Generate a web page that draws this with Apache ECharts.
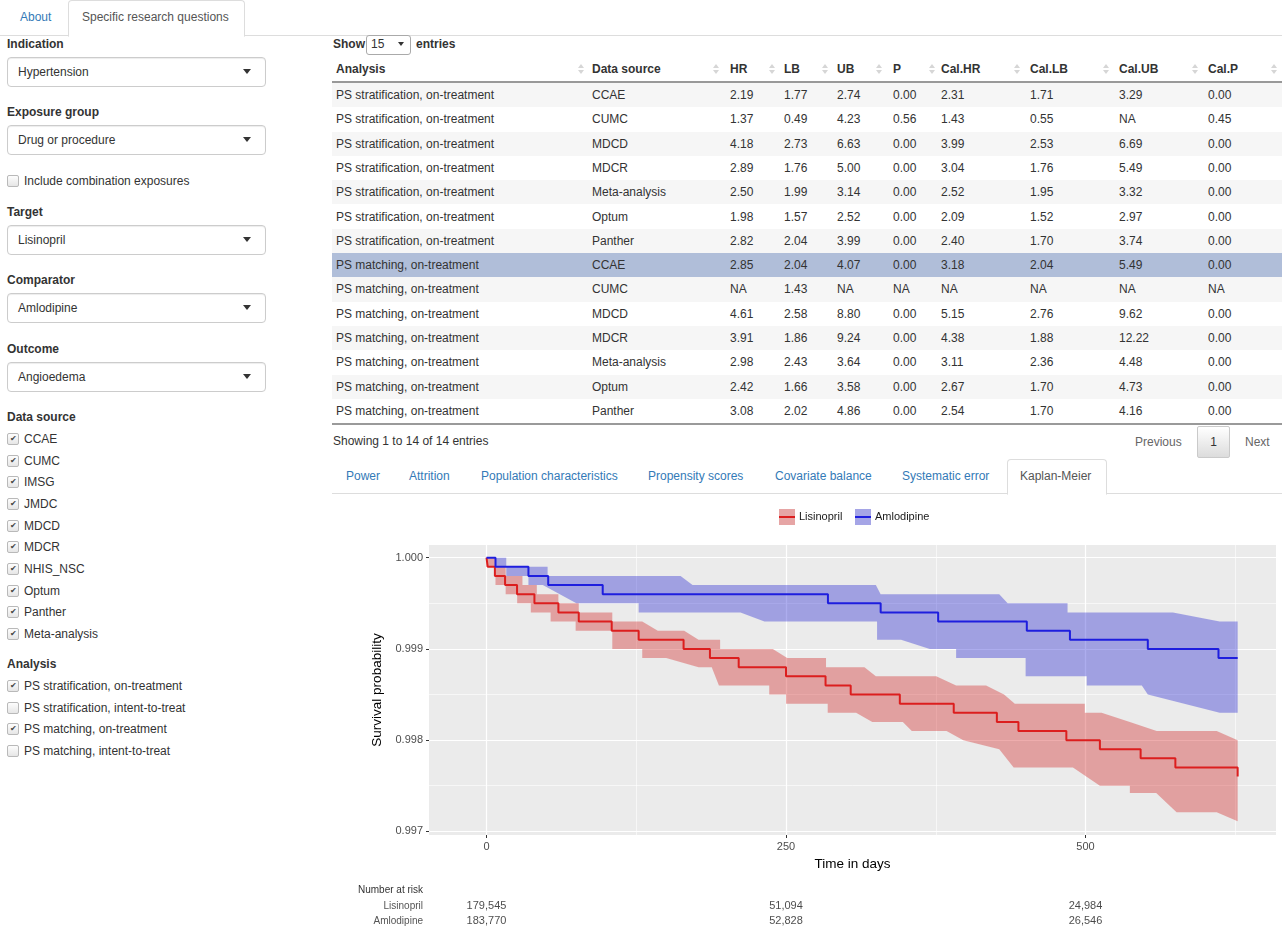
<!DOCTYPE html>
<html>
<head>
<meta charset="utf-8">
<script src="https://cdn.jsdelivr.net/npm/echarts/dist/echarts.min.js"></script>
<style>
body{margin:0;width:1282px;height:929px;overflow:hidden;background:#fff;position:relative;
     font-family:"Liberation Sans",Arial,Helvetica,sans-serif;font-size:12px;color:#333}
.t{position:absolute;white-space:nowrap;line-height:14px}
.b{font-weight:bold}
.lnk{color:#337ab7}
.sel{position:absolute;left:7px;width:257px;height:28px;border:1px solid #ccc;border-radius:4px;
     box-shadow:inset 0 1px 1px rgba(0,0,0,.075);background:#fff}
.sel span{position:absolute;left:10px;top:7px;line-height:14px}
.caret{position:absolute;width:0;height:0;border-left:4px solid transparent;border-right:4px solid transparent;border-top:5px solid #333}
.cb{position:absolute;width:10px;height:10px;border:1px solid #b9b9b9;border-radius:2px;
    background:linear-gradient(#fdfdfd,#e6e6e6);font-size:8px;line-height:10px;text-align:center;color:#444}
.sort{position:absolute;width:6px;height:10px}
.sort:before{content:"";position:absolute;left:0;top:0;border-left:3px solid transparent;border-right:3px solid transparent;border-bottom:4px solid #d6d6d6}
.sort:after{content:"";position:absolute;left:0;top:6px;border-left:3px solid transparent;border-right:3px solid transparent;border-top:4px solid #d6d6d6}
#km{position:absolute;left:330px;top:495px;width:952px;height:434px}
</style>
</head>
<body>

<!-- top tabs -->
<div style="position:absolute;left:0;top:35px;width:1282px;border-top:1px solid #ddd"></div>
<div class="t lnk" style="left:20px;top:10px">About</div>
<div style="position:absolute;left:68px;top:0;width:175px;height:35px;border:1px solid #ddd;border-bottom:1px solid #fff;border-radius:4px 4px 0 0;background:#fff"></div>
<div class="t" style="left:82px;top:10px;color:#555">Specific research questions</div>

<div id="side"></div>
<div id="main"></div>

<!-- sub tabs -->
<div style="position:absolute;left:332px;top:493px;width:950px;border-top:1px solid #ddd"></div>
<div style="position:absolute;left:1007px;top:459px;width:98px;height:34px;border:1px solid #ddd;border-bottom:1px solid #fff;border-radius:4px 4px 0 0;background:#fff"></div>
<div id="subtabs"></div>

<div id="km"></div>

<script>
// ---------- Kaplan-Meier data ----------
var lisinoprilTime = [0, 1, 7, 15.5, 25.5, 40, 60, 77, 104.5, 127, 164.5, 186.5, 210.5, 250, 283, 304, 345, 390, 426, 444, 484, 512, 546, 575, 627];
var lisinoprilSurv = [1.0000, 0.9999, 0.9998, 0.9997, 0.9996, 0.9995, 0.9994, 0.9993, 0.9992, 0.9991, 0.9990, 0.9989, 0.9988, 0.9987, 0.9986, 0.9985, 0.9984, 0.9983, 0.9982, 0.9981, 0.9980, 0.9979, 0.9978, 0.9977, 0.9976];

var amlodipineTime = [0, 7.5, 35, 51.5, 97, 285, 329, 377, 451, 487, 552, 611, 627];
var amlodipineSurv = [1.0000, 0.9999, 0.9998, 0.9997, 0.9996, 0.9995, 0.9994, 0.9993, 0.9992, 0.9991, 0.9990, 0.9989, 0.9989];

// confidence band outlines
var lisinoprilUpperT = [0, 7, 7, 16, 16, 30, 30, 42, 42, 60, 60, 77, 77, 105, 105, 130, 143, 165, 177, 195, 195, 239, 251, 283.4, 283.4, 315.5, 325, 375.4, 392, 417, 432, 441, 499.4, 499.4, 513.4, 537, 559.4, 609.5, 627];
var lisinoprilUpperV = [1.0000, 1.0000, 0.9999, 0.9999, 0.9998, 0.9998, 0.9997, 0.9997, 0.9996, 0.9996, 0.9995, 0.9995, 0.9994, 0.9994, 0.9993, 0.9993, 0.9992, 0.9992, 0.9991, 0.9991, 0.9990, 0.9990, 0.9989, 0.9989, 0.9988, 0.9988, 0.9987, 0.9987, 0.9986, 0.9986, 0.9985, 0.9984, 0.9984, 0.9983, 0.9983, 0.9982, 0.9981, 0.9981, 0.9980];
var lisinoprilLowerT = [0, 7.5, 7.5, 16, 16, 25.6, 25.6, 37, 37, 53.5, 53.5, 74.4, 74.4, 105, 105, 130, 130, 150, 177, 188, 194, 236, 236, 250, 250, 284.8, 284.8, 308.5, 322, 347.5, 355, 384, 398, 428, 440, 489.5, 512, 537, 537, 559, 576, 609.5, 627];
var lisinoprilLowerV = [0.9999, 0.9999, 0.9997, 0.9997, 0.9996, 0.9996, 0.9995, 0.9995, 0.9994, 0.9994, 0.9993, 0.9993, 0.9992, 0.9992, 0.9990, 0.9990, 0.9989, 0.9989, 0.9988, 0.9988, 0.9986, 0.9986, 0.9985, 0.9985, 0.9984, 0.9984, 0.9983, 0.9983, 0.9982, 0.9982, 0.9981, 0.9981, 0.9980, 0.9979, 0.9977, 0.9977, 0.9975, 0.9975, 0.99742, 0.99742, 0.99721, 0.99721, 0.99711];

var amlodipineUpperT = [0, 16.5, 16.5, 51, 51, 162, 172, 325, 329, 428, 435, 485, 485, 573, 612, 627];
var amlodipineUpperV = [1.0000, 1.0000, 0.9999, 0.9999, 0.9998, 0.9998, 0.9997, 0.9997, 0.9996, 0.9996, 0.9995, 0.9995, 0.9994, 0.9994, 0.9993, 0.9993];
var amlodipineLowerT = [0, 7.5, 7.5, 16.5, 16.5, 35, 35, 47, 75, 127, 127, 212, 232, 326, 326, 346, 370, 392, 392, 450, 450, 501, 501, 547, 552, 612, 627];
var amlodipineLowerV = [1.0000, 1.0000, 0.9999, 0.9999, 0.9998, 0.9998, 0.9997, 0.9997, 0.9995, 0.9995, 0.9994, 0.9994, 0.9993, 0.9993, 0.9991, 0.9991, 0.9990, 0.9990, 0.9989, 0.9989, 0.9987, 0.9987, 0.9986, 0.9986, 0.9985, 0.9983, 0.9983];

var xTicks = [0, 250, 500];
var xMinorTicks = [125, 375, 625];
var yTicks = [0.997, 0.998, 0.999, 1.000];
var yMinorTicks = [0.9975, 0.9985, 0.9995];

// number at risk
var riskGroups = ['Lisinopril', 'Amlodipine'];
var riskDays = [0, 250, 500];
var lisinoprilAtRisk = [179545, 51094, 24984];
var amlodipineAtRisk = [183770, 52828, 26546];

// ---------- results table ----------
var tableHead = ['Analysis', 'Data source', 'HR', 'LB', 'UB', 'P', 'Cal.HR', 'Cal.LB', 'Cal.UB', 'Cal.P'];
var analysisCol = ['PS stratification, on-treatment','PS stratification, on-treatment','PS stratification, on-treatment','PS stratification, on-treatment','PS stratification, on-treatment','PS stratification, on-treatment','PS stratification, on-treatment',
                   'PS matching, on-treatment','PS matching, on-treatment','PS matching, on-treatment','PS matching, on-treatment','PS matching, on-treatment','PS matching, on-treatment','PS matching, on-treatment'];
var sourceCol = ['CCAE','CUMC','MDCD','MDCR','Meta-analysis','Optum','Panther','CCAE','CUMC','MDCD','MDCR','Meta-analysis','Optum','Panther'];
var hrCol    = ['2.19','1.37','4.18','2.89','2.50','1.98','2.82','2.85','NA','4.61','3.91','2.98','2.42','3.08'];
var lbCol    = ['1.77','0.49','2.73','1.76','1.99','1.57','2.04','2.04','1.43','2.58','1.86','2.43','1.66','2.02'];
var ubCol    = ['2.74','4.23','6.63','5.00','3.14','2.52','3.99','4.07','NA','8.80','9.24','3.64','3.58','4.86'];
var pCol     = ['0.00','0.56','0.00','0.00','0.00','0.00','0.00','0.00','NA','0.00','0.00','0.00','0.00','0.00'];
var calHrCol = ['2.31','1.43','3.99','3.04','2.52','2.09','2.40','3.18','NA','5.15','4.38','3.11','2.67','2.54'];
var calLbCol = ['1.71','0.55','2.53','1.76','1.95','1.52','1.70','2.04','NA','2.76','1.88','2.36','1.70','1.70'];
var calUbCol = ['3.29','NA','6.69','5.49','3.32','2.97','3.74','5.49','NA','9.62','12.22','4.48','4.73','4.16'];
var calPCol  = ['0.00','0.45','0.00','0.00','0.00','0.00','0.00','0.00','NA','0.00','0.00','0.00','0.00','0.00'];
var selectedRow = 7;

var dataSources = ['CCAE','CUMC','IMSG','JMDC','MDCD','MDCR','NHIS_NSC','Optum','Panther','Meta-analysis'];
var analyses = ['PS stratification, on-treatment','PS stratification, intent-to-treat','PS matching, on-treatment','PS matching, intent-to-treat'];
var analysesChecked = [true, false, true, false];
var subTabs = ['Power','Attrition','Population characteristics','Propensity scores','Covariate balance','Systematic error'];

// ---------- page layout ----------
function txt(parent, s, x, yc, cls, extra) {
    var d = document.createElement('div');
    d.className = 't ' + (cls || '');
    d.style.left = x + 'px';
    d.style.top = (yc - 7) + 'px';
    if (extra) d.style.cssText += extra;
    d.textContent = s;
    parent.appendChild(d);
    return d;
}
function box(parent, cls, css, html) {
    var d = document.createElement('div');
    d.className = cls;
    d.style.cssText = css;
    if (html) d.innerHTML = html;
    parent.appendChild(d);
    return d;
}
function checkbox(parent, x, yc, on) {
    box(parent, 'cb', 'left:' + x + 'px;top:' + (yc - 6) + 'px', on ? '&#10004;' : '');
}

var side = document.getElementById('side');
var selects = [['Indication', 44, 57, 'Hypertension'], ['Exposure group', 112, 125, 'Drug or procedure'],
               ['Target', 212, 225, 'Lisinopril'], ['Comparator', 280, 293, 'Amlodipine'], ['Outcome', 349, 362, 'Angioedema']];
selects.forEach(function (s) {
    txt(side, s[0], 7, s[1], 'b');
    box(side, 'sel', 'top:' + s[2] + 'px', '<span>' + s[3] + '</span>');
    box(side, 'caret', 'left:243px;top:' + (s[2] + 12) + 'px');
});
checkbox(side, 7, 181, false);
txt(side, 'Include combination exposures', 24, 181, '');
txt(side, 'Data source', 7, 417, 'b');
dataSources.forEach(function (s, i) {
    var yc = 439 + i * 21.67;
    checkbox(side, 7, yc, true);
    txt(side, s, 24, yc, '');
});
txt(side, 'Analysis', 7, 664, 'b');
analyses.forEach(function (s, i) {
    var yc = 686 + i * 21.67;
    checkbox(side, 7, yc, analysesChecked[i]);
    txt(side, s, 24, yc, '');
});

var main = document.getElementById('main');
txt(main, 'Show', 333, 44, 'b');
box(main, '', 'position:absolute;left:366px;top:35px;width:43px;height:18px;border:1px solid #aaa;border-radius:3px;background:#fff');
txt(main, '15', 371, 44, '');
box(main, 'caret', 'left:398px;top:42px;border-left-width:3px;border-right-width:3px;border-top-width:4px');
txt(main, 'entries', 416, 44, 'b');

var colX = [336, 592, 730, 784, 837, 893, 941, 1030, 1119, 1208];
var sortX = [578, 713, 769, 822, 876, 929, 1014, 1103, 1192, 1271];
tableHead.forEach(function (h, i) {
    txt(main, h, colX[i], 69, 'b');
    box(main, 'sort', 'left:' + sortX[i] + 'px;top:64px');
});
box(main, '', 'position:absolute;left:332px;top:81px;width:950px;border-top:2px solid #999');
var cols = [analysisCol, sourceCol, hrCol, lbCol, ubCol, pCol, calHrCol, calLbCol, calUbCol, calPCol];
for (var r = 0; r < analysisCol.length; r++) {
    var rowTop = 83 + r * 24.3;
    var bg = r === selectedRow ? '#b0bed9' : (r % 2 === 0 ? '#f6f6f6' : '#fff');
    box(main, '', 'position:absolute;left:332px;top:' + rowTop + 'px;width:950px;height:24.3px;background:' + bg);
    for (var c = 0; c < cols.length; c++) {
        txt(main, cols[c][r], colX[c], rowTop + 12, '');
    }
}
box(main, '', 'position:absolute;left:332px;top:423px;width:950px;border-top:2px solid #9a9a9a');
txt(main, 'Showing 1 to 14 of 14 entries', 333, 441, '');
txt(main, 'Previous', 1135, 442, '', 'color:#666');
box(main, '', 'position:absolute;left:1197px;top:426px;width:31px;height:30px;border:1px solid #cacaca;border-radius:2px;background:linear-gradient(#fff,#dcdcdc);text-align:center;line-height:30px', '1');
txt(main, 'Next', 1245, 442, '', 'color:#666');

var st = document.getElementById('subtabs');
var subX = [346, 409, 481, 648, 775, 902];
subTabs.forEach(function (s, i) { txt(st, s, subX[i], 476, 'lnk'); });
txt(st, 'Kaplan-Meier', 1020, 476, '', 'color:#555');

// ---------- chart ----------
var X_MIN = -48, X_MAX = 659;
var Y_MIN = 0.99696, Y_MAX = 1.000139;
var RED = '#dc1e1e', BLUE = '#1e1ede';
var RED_FILL = 'rgba(210,40,40,0.38)', BLUE_FILL = 'rgba(40,40,210,0.38)';
var FONT = '"Liberation Sans", Arial, sans-serif';

function pairs(xs, ys) {
    return xs.map(function (x, i) { return [x, ys[i]]; });
}
function bandSeries(name, upT, upV, loT, loV, fill) {
    return {
        type: 'custom', name: name, xAxisIndex: 0, yAxisIndex: 0, silent: true, z: 2,
        data: [[upT[0], upV[0]]],
        renderItem: function (params, api) {
            var pts = [];
            for (var i = 0; i < upT.length; i++) pts.push(api.coord([upT[i], upV[i]]));
            for (var j = loT.length - 1; j >= 0; j--) pts.push(api.coord([loT[j], loV[j]]));
            return {type: 'polygon', shape: {points: pts}, style: {fill: fill}};
        }
    };
}
function riskData(group, counts) {
    return riskDays.map(function (d, i) { return [d, group, counts[i]]; });
}

var chart = echarts.init(document.getElementById('km'));
var option = {
    animation: false,
    textStyle: {fontFamily: FONT},
    grid: [
        {left: 99, top: 50, width: 847, height: 290, show: true, backgroundColor: '#ebebeb', borderWidth: 0, outerBoundsMode: 'none'},
        {left: 99, top: 403.5, width: 847, height: 30, show: false, outerBoundsMode: 'none'}
    ],
    xAxis: [
        {
            type: 'value', gridIndex: 0, min: X_MIN, max: X_MAX,
            axisLine: {show: false, onZero: false},
            axisTick: {show: true, length: 3, lineStyle: {color: '#333'}, customValues: xTicks},
            axisLabel: {customValues: xTicks, color: '#4d4d4d', fontSize: 11, margin: 6},
            splitLine: {show: true, lineStyle: {color: '#fff', width: 1.2}},
            name: 'Time in days', nameLocation: 'middle', nameGap: 19,
            nameTextStyle: {color: '#000', fontSize: 13.5}
        },
        {
            type: 'value', gridIndex: 0, min: X_MIN, max: X_MAX, position: 'bottom',
            axisLine: {show: false, onZero: false},
            axisTick: {show: false, customValues: xMinorTicks},
            axisLabel: {show: false},
            splitLine: {show: true, lineStyle: {color: '#fff', width: 0.6}}
        },
        {type: 'value', gridIndex: 1, min: X_MIN, max: X_MAX, show: false, axisLine: {onZero: false}}
    ],
    yAxis: [
        {
            type: 'value', gridIndex: 0, min: Y_MIN, max: Y_MAX, position: 'left',
            axisLine: {show: false, onZero: false},
            axisTick: {show: true, length: 3, lineStyle: {color: '#333'}, customValues: yTicks},
            axisLabel: {customValues: yTicks, color: '#4d4d4d', fontSize: 11, margin: 6,
                        formatter: function (v) { return v.toFixed(3); }},
            splitLine: {show: true, lineStyle: {color: '#fff', width: 1.2}},
            name: 'Survival probability', nameLocation: 'middle', nameGap: 39,
            nameTextStyle: {color: '#000', fontSize: 13.5}
        },
        {
            type: 'value', gridIndex: 0, min: Y_MIN, max: Y_MAX, position: 'left',
            axisLine: {show: false, onZero: false},
            axisTick: {show: false, customValues: yMinorTicks},
            axisLabel: {show: false},
            splitLine: {show: true, lineStyle: {color: '#fff', width: 0.6}}
        },
        {
            type: 'category', gridIndex: 1, data: riskGroups, inverse: true,
            axisLine: {show: false, onZero: false}, axisTick: {show: false}, splitLine: {show: false},
            axisLabel: {color: '#555', fontSize: 10, margin: 6}
        }
    ],
    series: [
        bandSeries('Lisinopril band', lisinoprilUpperT, lisinoprilUpperV, lisinoprilLowerT, lisinoprilLowerV, RED_FILL),
        bandSeries('Amlodipine band', amlodipineUpperT, amlodipineUpperV, amlodipineLowerT, amlodipineLowerV, BLUE_FILL),
        {
            type: 'line', name: 'Lisinopril', xAxisIndex: 0, yAxisIndex: 0, step: 'end', z: 3,
            showSymbol: false, silent: true, data: pairs(lisinoprilTime, lisinoprilSurv),
            lineStyle: {color: RED, width: 2}, itemStyle: {color: RED}
        },
        {
            type: 'line', name: 'Amlodipine', xAxisIndex: 0, yAxisIndex: 0, step: 'end', z: 3,
            showSymbol: false, silent: true, data: pairs(amlodipineTime, amlodipineSurv),
            lineStyle: {color: BLUE, width: 2}, itemStyle: {color: BLUE}
        },
        {
            type: 'scatter', xAxisIndex: 2, yAxisIndex: 2, symbolSize: 1, silent: true,
            itemStyle: {color: 'rgba(0,0,0,0)'},
            data: riskData(riskGroups[0], lisinoprilAtRisk).concat(riskData(riskGroups[1], amlodipineAtRisk)),
            label: {show: true, position: 'inside', color: '#1a1a1a', fontSize: 11,
                    formatter: function (p) { return p.value[2].toLocaleString('en-US'); }}
        }
    ],
    graphic: [
        {type: 'rect', shape: {x: 449, y: 14, width: 16, height: 16}, style: {fill: '#f2f2f2'}},
        {type: 'rect', shape: {x: 449, y: 14, width: 16, height: 16}, style: {fill: RED_FILL}},
        {type: 'line', shape: {x1: 449, y1: 22, x2: 465, y2: 22}, style: {stroke: RED, lineWidth: 2}},
        {type: 'text', style: {text: 'Lisinopril', x: 469, y: 22, verticalAlign: 'middle', fontSize: 11, fill: '#1a1a1a', fontFamily: FONT}},
        {type: 'rect', shape: {x: 525, y: 14, width: 16, height: 16}, style: {fill: '#f2f2f2'}},
        {type: 'rect', shape: {x: 525, y: 14, width: 16, height: 16}, style: {fill: BLUE_FILL}},
        {type: 'line', shape: {x1: 525, y1: 22, x2: 541, y2: 22}, style: {stroke: BLUE, lineWidth: 2}},
        {type: 'text', style: {text: 'Amlodipine', x: 545, y: 22, verticalAlign: 'middle', fontSize: 11, fill: '#1a1a1a', fontFamily: FONT}},
        {type: 'text', style: {text: 'Number at risk', x: 93, y: 395, align: 'right', verticalAlign: 'middle', fontSize: 10, fill: '#333', fontFamily: FONT}}
    ]
};
chart.setOption(option);
</script>
</body>
</html>
